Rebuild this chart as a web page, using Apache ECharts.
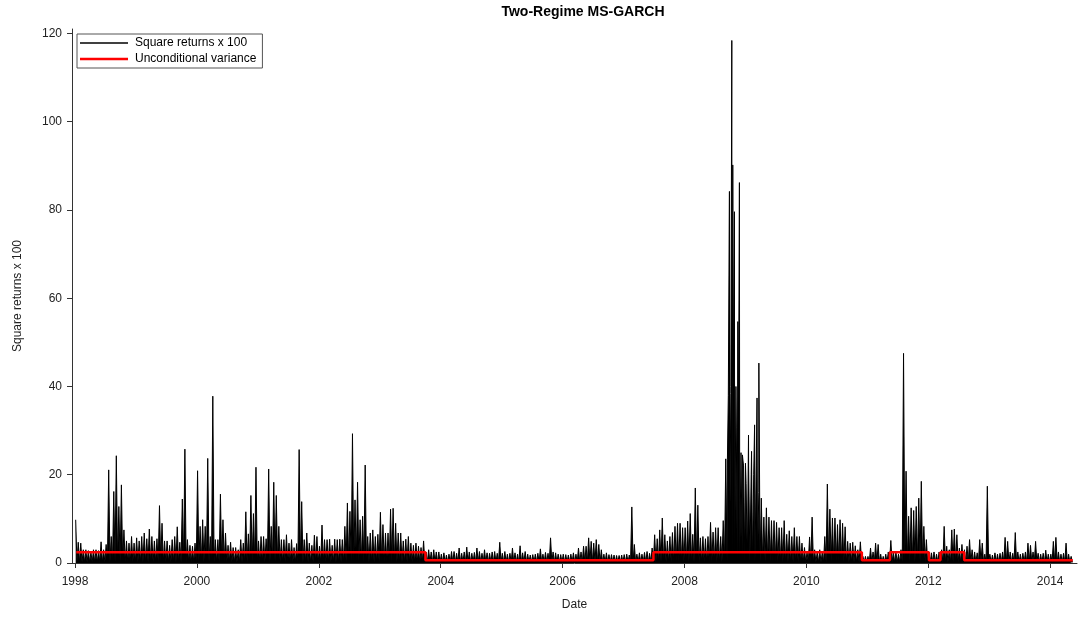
<!DOCTYPE html>
<html>
<head>
<meta charset="utf-8">
<title>Two-Regime MS-GARCH</title>
<script src="https://cdn.jsdelivr.net/npm/echarts@6/dist/echarts.min.js"></script>
<style>
  html, body { margin: 0; padding: 0; background: #fff; }
  #chart { width: 1086px; height: 617px; }
</style>
</head>
<body>
<div id="chart"></div>
<script>
// squared returns x 100, highest needle in each half-month (24 per year)
const y1998 = [9.8, 4.7, 4.5, 3, 3, 2.8, 2.5, 3, 3, 2.8, 4.8, 3, 4.2, 21.1, 6, 16.2, 24.3, 12.8, 17.7, 7.5, 5, 4.5, 6, 4.5]
const y1999 = [5.7, 5, 6, 6.8, 5.5, 7.7, 6, 5, 5.5, 13, 9, 5, 5, 4, 5.3, 6, 8.2, 4.7, 14.5, 25.8, 5.3, 4, 3.8, 4.5]
const y2000 = [20.9, 8.3, 9.8, 8.3, 23.7, 6, 37.8, 5.3, 5.3, 15.6, 9.8, 6.8, 4, 4.7, 3.5, 3.5, 3, 5.3, 4.5, 11.6, 6.6, 15.3, 11.2, 21.7]
const y2001 = [5, 6, 6, 5.5, 21.3, 8.3, 18.3, 15.3, 8.3, 5.3, 5.3, 6.4, 4.5, 5.3, 3.5, 4.4, 25.7, 13.9, 5.3, 6.8, 4.5, 4, 6.3, 6]
const y2002 = [3.8, 8.6, 5.3, 5.3, 5.4, 4, 5.4, 5.3, 5.4, 5.3, 8.3, 13.6, 11.7, 29.3, 14.3, 18.3, 9.8, 10.6, 22.2, 6, 6.8, 7.5, 6, 6.5]
const y2003 = [11.5, 8.7, 6.8, 6.8, 12.2, 12.4, 9, 6.8, 6.8, 5, 5.4, 6, 4.5, 4, 4.5, 3.8, 3.5, 5, 2.5, 3, 2.5, 3, 2.5, 2.5]
const y2004 = [2.0, 2.3, 1.8, 2.0, 2.6, 2.6, 2.2, 3.4, 2.2, 2.5, 3.6, 2.5, 2.2, 2.4, 3.4, 2.6, 2.2, 3.0, 2.3, 2.2, 2.5, 2.6, 2.2, 4.7]
const y2005 = [2.2, 2.6, 2.0, 2.2, 3.4, 2.3, 2.0, 3.9, 2.3, 2.6, 2.0, 1.8, 1.9, 2.0, 2.2, 3.2, 2.0, 2.4, 2.2, 5.7, 2.5, 2.3, 2.0, 1.9]
const y2006 = [2.0, 1.9, 1.8, 2.0, 2.3, 2.0, 3.4, 2.5, 3.8, 3.8, 5.7, 4.9, 4.5, 5.3, 4.2, 3.0, 2.0, 2.3, 1.9, 1.9, 1.8, 1.7, 1.7, 1.8]
const y2007 = [1.9, 2.0, 1.8, 12.7, 4.2, 2.0, 2.3, 2.0, 2.4, 2.6, 2.2, 3.4, 6.4, 5.5, 7.5, 10.2, 6.4, 5.0, 6.0, 6.9, 8.3, 9.0, 9.0, 8.0]
const y2008 = [8.0, 9.5, 11.2, 6.5, 17.0, 13.1, 5.7, 6.0, 5.5, 6.0, 9.2, 7.0, 8.0, 8.0, 6.0, 9.6, 23.6, 38, 40, 42, 40, 30, 25, 22]
const y2009 = [18, 22, 20, 20, 22, 16, 14.7, 10.4, 12.5, 10.4, 9.6, 9.6, 9.2, 8, 8, 9.6, 6.5, 7.3, 6, 8, 6, 6, 4.5, 3.5]
const y2010 = [2.5, 5.9, 10.4, 3, 2.5, 3, 2.5, 6, 17.9, 12.2, 10.2, 10.2, 8.7, 9.8, 9, 8.2, 4.9, 4.5, 4.7, 3.9, 3, 4.8, 1.5, 1.5]
const y2011 = [1.5, 3.4, 2.5, 4.5, 4.2, 2.0, 1.5, 2.0, 2.5, 5.1, 2.5, 2.5, 2.0, 3.0, 47.5, 20.8, 10.6, 12.5, 11.9, 12.8, 14.7, 18.5, 8.3, 5.3]
const y2012 = [2.5, 2.3, 2.5, 2.0, 2.5, 3.0, 8.3, 3.8, 3.0, 7.5, 7.7, 6.4, 3.4, 4.2, 3.0, 3.8, 5.3, 3.0, 2.5, 2.3, 5.3, 4.5, 2.0, 17.4]
const y2013 = [2.0, 1.8, 2.3, 2.0, 2.2, 2.5, 5.8, 4.9, 2.5, 2.2, 6.9, 2.5, 2.0, 2.2, 2.5, 4.5, 4.0, 2.5, 4.9, 2.2, 2.0, 2.2, 2.9, 2.0]
const y2014 = [2.0, 4.9, 5.8, 2.5, 2.0, 2.2, 4.5, 2.0, 1.5]
const yearRows = [y1998, y1999, y2000, y2001, y2002, y2003, y2004, y2005, y2006, y2007, y2008, y2009, y2010, y2011, y2012, y2013, y2014]
const firstYear = 1998

// the daily series dips to about this level between needles
const floorLevel = 0.15

// single tall needles of the 2008/09 crisis: [date as year fraction, value]
const crisisSpikes = [
  [2008.704, 23.4], [2008.737, 84.2], [2008.760, 38.4], [2008.776, 118.4], [2008.792, 90.2],
  [2008.819, 79.6], [2008.850, 30.6], [2008.875, 54.7], [2008.901, 86.2], [2008.950, 24.5],
  [2009.000, 22.6], [2009.050, 29.0], [2009.100, 25.3], [2009.150, 31.3], [2009.190, 37.4],
  [2009.220, 45.3]
]

// unconditional variance of the active regime
const regimeStarts = [1998.02, 2003.75, 2007.49, 2010.91, 2011.37, 2012.01, 2012.20, 2012.59]
const regimeLevels = [2.45, 0.65, 2.45, 0.65, 2.45, 0.65, 2.45, 0.65]
const regimeEnd = 2014.37

const yearTicks = [1998, 2000, 2002, 2004, 2006, 2008, 2010, 2012, 2014]

const font = 'Liberation Sans, Arial, Helvetica, sans-serif'

// build the dense return trace
const returns = []
yearRows.forEach((row, k) => {
  row.forEach((v, i) => {
    const t = firstYear + k + i / 24
    returns.push([t + 0.25 / 24, v])
    returns.push([t + 0.75 / 24, floorLevel])
  })
})
crisisSpikes.forEach(p => returns.push(p))
returns.sort((a, b) => a[0] - b[0])

const variance = regimeStarts.map((t, i) => [t, regimeLevels[i]])
variance.push([regimeEnd, regimeLevels[regimeLevels.length - 1]])

const chart = echarts.init(document.getElementById('chart'))
chart.setOption({
  animation: false,
  backgroundColor: '#fff',
  title: {
    text: 'Two-Regime MS-GARCH',
    left: 578, top: 0, textAlign: 'center',
    textStyle: { fontFamily: font, fontSize: 14, fontWeight: 'bold', color: '#000' }
  },
  legend: {
    orient: 'vertical', left: 77, top: 34,
    padding: [3, 6, 3, 3], itemWidth: 48, itemHeight: 12, itemGap: 4,
    borderColor: '#555', borderWidth: 1,
    textStyle: { fontFamily: font, fontSize: 12, color: '#000', padding: [0, 0, 0, 2] },
    data: [
      { name: 'Square returns x 100', icon: 'path://M0,0H48V1.3H0Z' },
      { name: 'Unconditional variance', icon: 'path://M0,0H48V2.5H0Z' }
    ]
  },
  grid: { left: 72, right: 9, top: 29, bottom: 54 },
  xAxis: {
    type: 'value', min: 1997.95, max: 2014.44,
    name: 'Date', nameLocation: 'middle', nameGap: 36,
    nameTextStyle: { fontFamily: font, fontSize: 12, color: '#222' },
    axisLine: { show: true, lineStyle: { color: '#333', width: 1 } },
    axisTick: { show: true, length: 5, customValues: yearTicks, lineStyle: { color: '#333' } },
    axisLabel: { customValues: yearTicks, margin: 13, fontFamily: font, fontSize: 12, color: '#222', formatter: v => String(Math.round(v)) },
    splitLine: { show: false }
  },
  yAxis: {
    type: 'value', min: 0, max: 121, interval: 20,
    name: 'Square returns x 100', nameLocation: 'middle', nameGap: 48,
    nameTextStyle: { fontFamily: font, fontSize: 12, color: '#222' },
    axisLine: { show: true, lineStyle: { color: '#333', width: 1 } },
    axisTick: { show: true, length: 5, lineStyle: { color: '#333' } },
    axisLabel: { margin: 10, fontFamily: font, fontSize: 12, color: '#222' },
    splitLine: { show: false }
  },
  series: [
    {
      name: 'Square returns x 100', type: 'line', data: returns,
      symbol: 'none', lineStyle: { color: '#000', width: 1 }, itemStyle: { color: '#000' },
      areaStyle: { color: '#000', opacity: 1 }
    },
    {
      name: 'Unconditional variance', type: 'line', data: variance, step: 'end',
      symbol: 'none', lineStyle: { color: '#ff0000', width: 2.5 }, itemStyle: { color: '#ff0000' }
    }
  ]
})
</script>
</body>
</html>
